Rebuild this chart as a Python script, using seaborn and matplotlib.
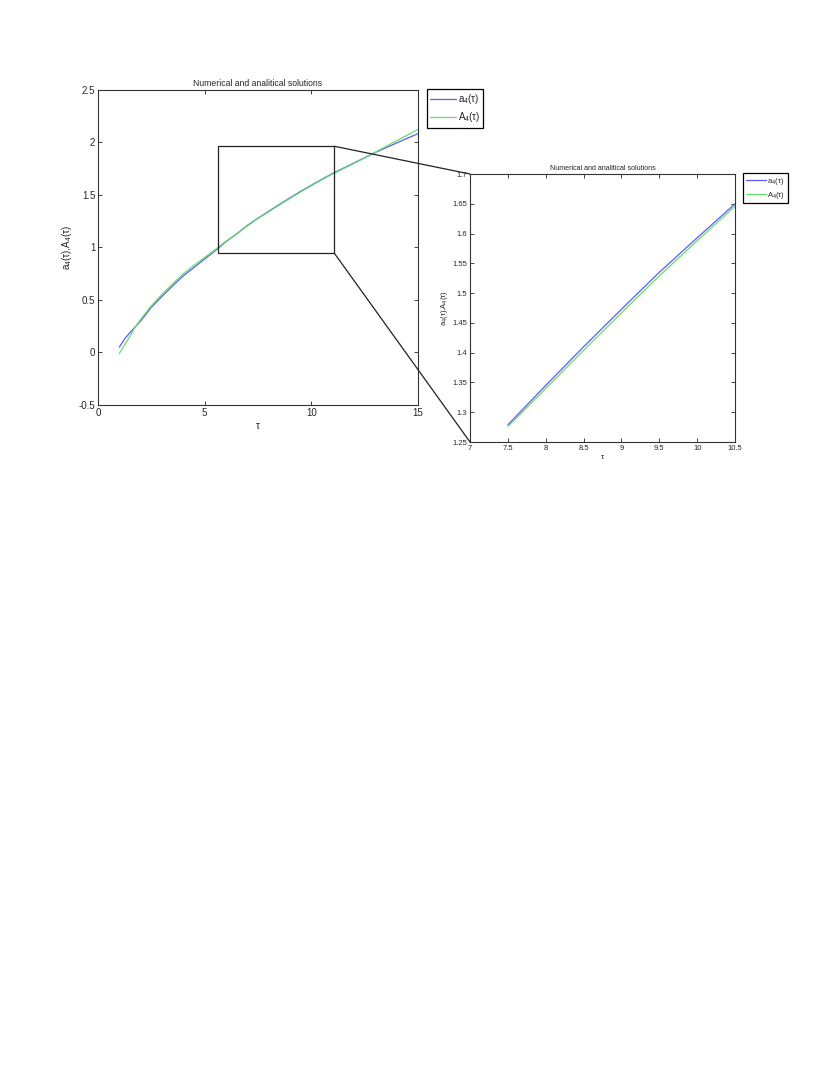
import matplotlib
matplotlib.use("Agg")
import matplotlib.pyplot as plt
import seaborn as sns
import numpy as np
from matplotlib.patches import Rectangle, ConnectionPatch
from matplotlib.ticker import FuncFormatter

# values
tau = [1, 1.25, 1.5, 1.75, 2, 2.5, 3, 3.5, 4, 4.5, 5, 5.5, 6, 6.5, 7, 7.5,
       8, 8.5, 9, 9.5, 10, 10.5, 11, 11.5, 12, 12.5, 13, 13.5, 14, 14.5, 15]
a4 = [0.05, 0.13, 0.19, 0.245, 0.30, 0.43, 0.535, 0.635, 0.73, 0.81, 0.89,
      0.97, 1.055, 1.13, 1.21, 1.279, 1.345, 1.41, 1.473, 1.535, 1.593,
      1.650, 1.705, 1.755, 1.805, 1.855, 1.905, 1.95, 1.995, 2.04, 2.084]
A4 = [-0.01, 0.075, 0.155, 0.245, 0.315, 0.445, 0.555, 0.655, 0.75, 0.83,
      0.905, 0.98, 1.06, 1.13, 1.205, 1.276, 1.340, 1.404, 1.467, 1.529,
      1.588, 1.646, 1.70, 1.75, 1.80, 1.852, 1.908, 1.962, 2.016, 2.07, 2.125]

zoom_range = (7.5, 10.5)

left_xticks = [0, 5, 10, 15]
left_yticks = [-0.5, 0, 0.5, 1, 1.5, 2, 2.5]
right_xticks = [7, 7.5, 8, 8.5, 9, 9.5, 10, 10.5]
right_yticks = [1.25, 1.3, 1.35, 1.4, 1.45, 1.5, 1.55, 1.6, 1.65, 1.7]

title = "Numerical and analitical solutions"
lab_a = r"a$_4$($\tau$)"
lab_A = r"A$_4$($\tau$)"

sns.set_style("ticks")
plt.rcParams["font.family"] = ["Liberation Sans", "DejaVu Sans"]
plt.rcParams["mathtext.fontset"] = "custom"
plt.rcParams["mathtext.rm"] = "Liberation Sans"
plt.rcParams["mathtext.it"] = "Liberation Sans"

blue = "#5a5aff"
green = "#66dd66"

fig = plt.figure(figsize=(8.3, 10.75), dpi=100)
ax1 = fig.add_axes([0.1181, 0.6233, 0.3855, 0.2930])
ax2 = fig.add_axes([0.5663, 0.5888, 0.3193, 0.2493])

fmt = FuncFormatter(lambda v, p: "%g" % v)


def style(ax, xt, yt, fs):
    ax.set_xticks(xt)
    ax.set_yticks(yt)
    ax.xaxis.set_major_formatter(fmt)
    ax.yaxis.set_major_formatter(fmt)
    ax.tick_params(direction="in", top=True, right=True, length=3,
                   width=0.6, labelsize=fs, pad=2)
    for s in ax.spines.values():
        s.set_linewidth(0.8)
        s.set_color("#333333")


def legend(ax, fs, anchor):
    leg = ax.legend(loc="upper left", bbox_to_anchor=anchor,
                    borderaxespad=0, fontsize=fs, fancybox=False,
                    framealpha=1, handlelength=2.6, handletextpad=0.2,
                    borderpad=0.35, labelspacing=0.4)
    leg.get_frame().set_edgecolor("black")
    leg.get_frame().set_linewidth(0.9)


sns.lineplot(x=tau, y=a4, ax=ax1, color=blue, lw=0.9, label=lab_a)
sns.lineplot(x=tau, y=A4, ax=ax1, color=green, lw=0.9, label=lab_A)
ax1.set_xlim(0, 15)
ax1.set_ylim(-0.5, 2.5)
style(ax1, left_xticks, left_yticks, 7)
ax1.set_title(title, fontsize=6.2, pad=3)
ax1.set_xlabel(r"$\tau$", fontsize=7, labelpad=2)
ax1.set_ylabel(lab_a + "," + lab_A, fontsize=7, labelpad=3)
legend(ax1, 7, (1.028, 1.003))

t = np.array(tau)
sel = (t >= zoom_range[0]) & (t <= zoom_range[1])
sns.lineplot(x=t[sel], y=np.array(a4)[sel], ax=ax2, color=blue, lw=0.9,
             label=lab_a)
sns.lineplot(x=t[sel], y=np.array(A4)[sel], ax=ax2, color=green, lw=0.9,
             label=lab_A)
ax2.set_xlim(7, 10.5)
ax2.set_ylim(1.25, 1.7)
style(ax2, right_xticks, right_yticks, 5.5)
ax2.set_title(title, fontsize=5.1, pad=3)
ax2.set_xlabel(r"$\tau$", fontsize=6, labelpad=1)
ax2.set_ylabel(lab_a + "," + lab_A, fontsize=5.5, labelpad=2)
legend(ax2, 5.5, (1.03, 1.004))

# zoom box and connectors
bx0, bx1, by0, by1 = 5.64, 11.08, 0.945, 1.964
ax1.add_patch(Rectangle((bx0, by0), bx1 - bx0, by1 - by0, fill=False,
                        edgecolor="#222222", lw=0.9, zorder=5))
for yb, ya in [(by1, 1), (by0, 0)]:
    con = ConnectionPatch(xyA=(bx1, yb), coordsA=ax1.transData,
                          xyB=(0, ya), coordsB=ax2.transAxes,
                          color="#222222", lw=0.9)
    fig.add_artist(con)

plt.savefig("out.png", dpi=100)
